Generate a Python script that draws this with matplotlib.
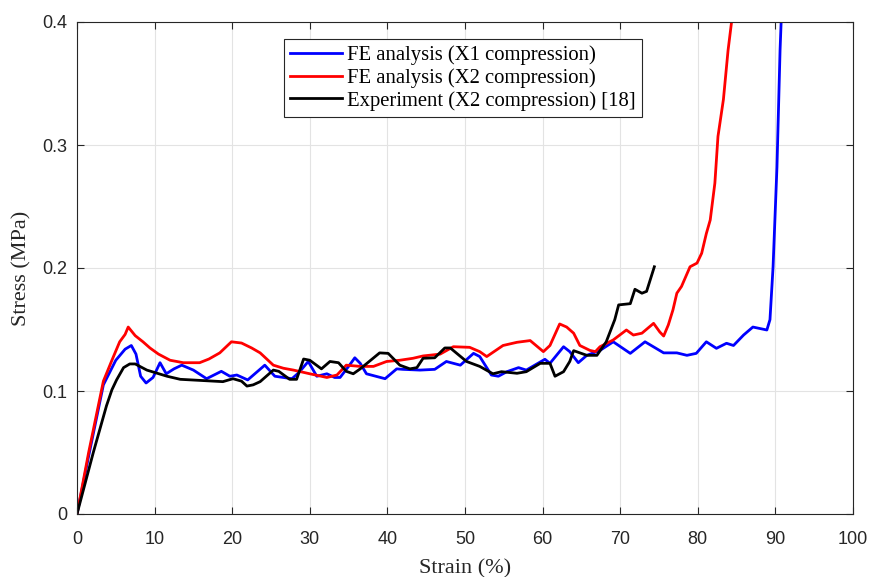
import matplotlib
matplotlib.use("Agg")
import matplotlib.pyplot as plt

blue_x = [0, 1.5, 3.4, 5, 6.2, 7, 7.6, 8.2, 8.9, 9.8, 10.7, 11.5, 12.5, 13.5, 15, 16.7, 18.6, 19.7,
          20.6, 22, 24.2, 25.5, 26.6, 27.7, 28.6, 29.8, 30.9, 32.2, 33.2, 33.9, 35, 35.8, 36.5, 37.3,
          38.5, 39.7, 41.2, 42, 44.2, 46.1, 47.6, 49.4, 51.1, 51.9, 53.4, 54.3, 55.4, 56.9, 57.9,
          60.3, 60.95, 62.7, 63.5, 64.6, 65.7, 67.4, 69.1, 71.3, 73.2, 75.6, 77.3, 78.6, 79.8, 81.1,
          82.4, 83.7, 84.6, 85.9, 87.1, 88.9, 89.3, 89.7, 90.2, 90.6, 90.8]
blue_y = [0, 0.047, 0.105, 0.125, 0.134, 0.137, 0.13, 0.112, 0.1065, 0.111, 0.123, 0.114, 0.118,
          0.121, 0.117, 0.11, 0.116, 0.112, 0.113, 0.109, 0.121, 0.112, 0.111, 0.110, 0.115, 0.124,
          0.112, 0.114, 0.111, 0.111, 0.12, 0.127, 0.1225, 0.114, 0.112, 0.110, 0.118, 0.1176, 0.117,
          0.1176, 0.124, 0.121, 0.1306, 0.128, 0.113, 0.112, 0.1157, 0.119, 0.117, 0.1258, 0.1225,
          0.136, 0.132, 0.123, 0.129, 0.133, 0.140, 0.1306, 0.140, 0.131, 0.131, 0.129, 0.1306, 0.140,
          0.1347, 0.1388, 0.137, 0.1455, 0.152, 0.1496, 0.158, 0.201, 0.282, 0.377, 0.41]

red_x = [0, 1.5, 3.4, 4.5, 5.5, 6.2, 6.6, 7.5, 8.5, 9.4, 10.5, 12, 13.7, 15.8, 17, 18.4, 19.9, 21.2,
         22.5, 23.6, 25.3, 26.6, 27.9, 30, 32.2, 33.5, 34.7, 36.5, 38.2, 39.9, 41.6, 43.3, 44.6, 46.8,
         48.5, 50.6, 51.9, 52.8, 54.9, 56.7, 58.4, 60.1, 60.95, 62.2, 63.1, 64, 64.8, 66.1, 66.8, 67.4,
         69.1, 70.8, 71.7, 72.8, 74.3, 75.1, 75.6, 76.2, 76.8, 77.3, 77.9, 79, 79.9, 80.5, 81.1, 81.6,
         82.2, 82.6, 83.3, 83.9, 84.35, 84.6]
red_y = [0, 0.05, 0.108, 0.125, 0.14, 0.146, 0.152, 0.145, 0.14, 0.135, 0.13, 0.125, 0.123, 0.123,
         0.126, 0.131, 0.140, 0.139, 0.135, 0.131, 0.121, 0.1185, 0.117, 0.114, 0.111, 0.113, 0.121,
         0.12, 0.12, 0.124, 0.125, 0.1266, 0.1285, 0.130, 0.136, 0.1355, 0.132, 0.128, 0.137, 0.1396,
         0.141, 0.132, 0.137, 0.1545, 0.152, 0.147, 0.137, 0.133, 0.132, 0.136, 0.1415, 0.1496, 0.1455,
         0.147, 0.155, 0.148, 0.1447, 0.1537, 0.166, 0.1795, 0.185, 0.201, 0.204, 0.212, 0.228, 0.239,
         0.269, 0.307, 0.337, 0.377, 0.4, 0.41]

black_x = [0, 2.1, 3.8, 4.5, 5.1, 6, 6.8, 7.5, 9, 11.6, 13.3, 18.8, 20.1, 21.2, 21.9, 22.7, 23.6,
           25.3, 26, 27.4, 28.3, 29.2, 30, 31.5, 32.6, 33.7, 34.7, 35.6, 36.5, 39, 40.1, 41.6, 42.9,
           43.8, 44.6, 46.1, 47.4, 48.1, 50.2, 51.9, 53.6, 54.7, 56.7, 57.9, 59.7, 60.95, 61.6, 62.7,
           63.5, 64, 65.7, 67, 68.2, 69.3, 69.8, 71.3, 71.9, 72.8, 73.4, 73.8, 74.4]
black_y = [0, 0.05, 0.088, 0.101, 0.109, 0.119, 0.122, 0.122, 0.117, 0.112, 0.1095, 0.1076, 0.110,
           0.108, 0.104, 0.105, 0.1076, 0.117, 0.116, 0.1095, 0.1095, 0.126, 0.125, 0.118, 0.124,
           0.123, 0.116, 0.114, 0.118, 0.131, 0.1306, 0.121, 0.118, 0.119, 0.1266, 0.127, 0.135, 0.135,
           0.124, 0.12, 0.114, 0.1157, 0.1144, 0.1157, 0.1225, 0.1225, 0.112, 0.1157, 0.124, 0.1328,
           0.129, 0.129, 0.140, 0.158, 0.170, 0.171, 0.1827, 0.1795, 0.181, 0.189, 0.201]

labels = ["FE analysis (X1 compression)", "FE analysis (X2 compression)",
          "Experiment (X2 compression) [18]"]
xticks = [0, 10, 20, 30, 40, 50, 60, 70, 80, 90, 100]
yticks = [0, 0.1, 0.2, 0.3, 0.4]
ytick_labels = ["0", "0.1", "0.2", "0.3", "0.4"]

fig = plt.figure(figsize=(8.71, 5.77), dpi=100)
ax = fig.add_axes([77 / 871, 63 / 577, 776 / 871, 492 / 577])

ax.plot(blue_x, blue_y, color="#0000ff", lw=2, label=labels[0])
ax.plot(red_x, red_y, color="#ff0000", lw=2, label=labels[1])
ax.plot(black_x, black_y, color="#000000", lw=2, label=labels[2])

ax.set_xlim(0, 100)
ax.set_ylim(0, 0.4)
ax.set_xticks(xticks)
ax.set_yticks(yticks)
ax.set_yticklabels(ytick_labels)
ax.grid(True, color="#e3e3e3", lw=0.8)
ax.set_axisbelow(True)
ax.tick_params(direction="in", top=True, right=True, length=5, width=0.8,
               labelsize=13, colors="#262626", labelcolor="#262626", pad=7)
ax.tick_params(axis="x", pad=12)
for lab in ax.get_xticklabels() + ax.get_yticklabels():
    lab.set_family("Liberation Sans")
for sp in ax.spines.values():
    sp.set_color("#262626")
    sp.set_linewidth(0.8)

ax.set_xlabel("Strain (%)", family="Liberation Serif", fontsize=16, color="#262626", labelpad=8)
ax.set_ylabel("Stress (MPa)", family="Liberation Serif", fontsize=16, color="#262626", labelpad=8)

leg = ax.legend(loc="upper left", bbox_to_anchor=(207 / 776, (514 - 39) / 492),
                prop={"family": "Liberation Serif", "size": 14.9},
                frameon=True, fancybox=False, edgecolor="#262626", framealpha=1,
                handlelength=2.5, handletextpad=0.25, borderpad=0.3, labelspacing=0.15,
                borderaxespad=0)
leg.get_frame().set_linewidth(0.8)

fig.savefig("out.png", dpi=100)
